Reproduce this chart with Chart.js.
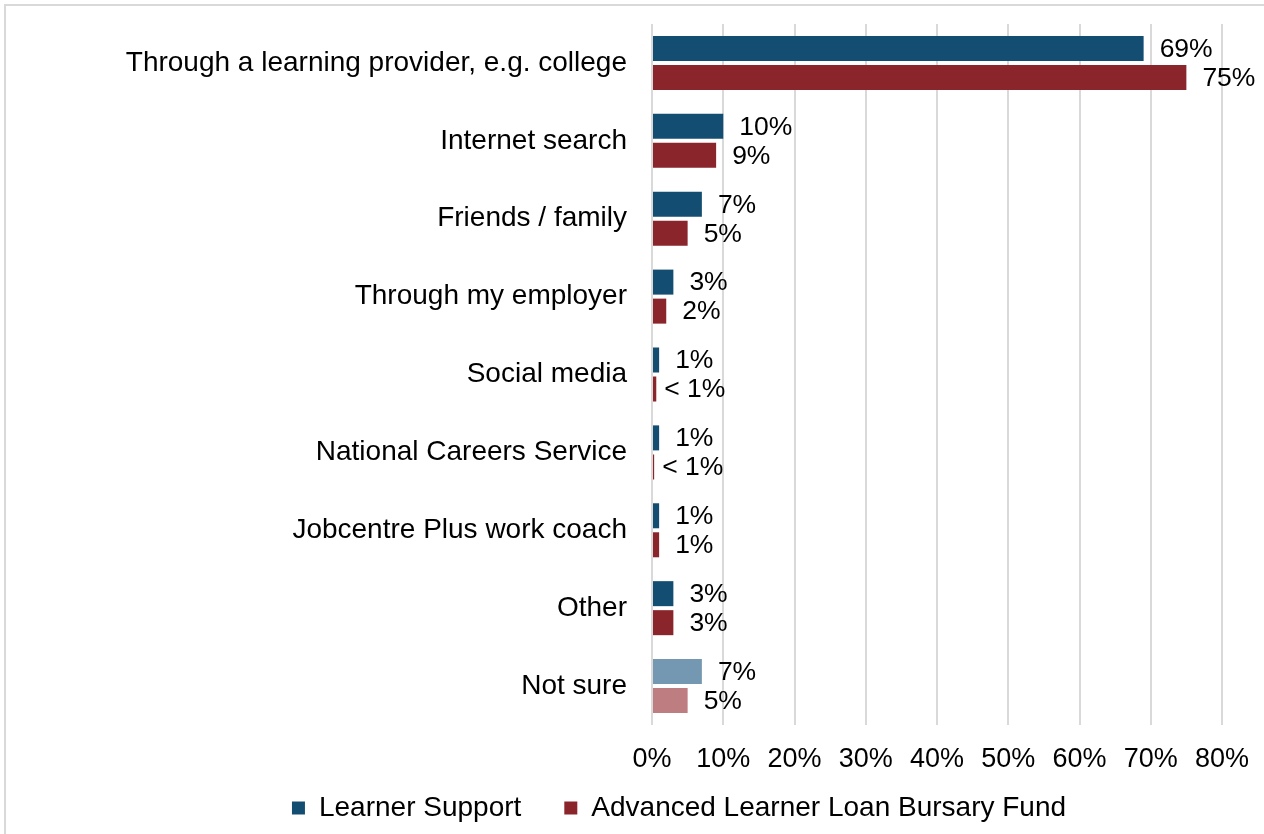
<!DOCTYPE html>
<html>
<head>
<meta charset="utf-8">
<script src="https://cdn.jsdelivr.net/npm/chart.js@4"></script>
<style>
  html, body { margin: 0; padding: 0; background: #fff; overflow: hidden; }
  #wrap { position: relative; width: 1264px; height: 834px; }
  #frame { position: absolute; left: 4px; top: 4px; width: 1400px; height: 1000px; border: 2px solid #d9d9d9; box-sizing: border-box; pointer-events: none; }
  canvas { position: absolute; left: 0; top: 0; }
</style>
</head>
<body>
<div id="wrap">
  <canvas id="myChart" width="1264" height="834"></canvas>
  <div id="frame"></div>
</div>
<script>
const categories = [
    'Through a learning provider, e.g. college',
    'Internet search',
    'Friends / family',
    'Through my employer',
    'Social media',
    'National Careers Service',
    'Jobcentre Plus work coach',
    'Other',
    'Not sure'
];
const learnerSupport = [69, 10, 7, 3, 1, 1, 1, 3, 7];
const bursaryFund = [75, 9, 5, 2, 0.6, 0.3, 1, 3, 5];
const learnerSupportLabels = ['69%', '10%', '7%', '3%', '1%', '1%', '1%', '3%', '7%'];
const bursaryFundLabels = ['75%', '9%', '5%', '2%', '< 1%', '< 1%', '1%', '3%', '5%'];
const xTicks = [0, 10, 20, 30, 40, 50, 60, 70, 80];

const blue = '#144d72';
const red = '#8a252c';
const blueLight = '#7498b1';
const redLight = '#bd7d81';

const fontFamily = '"Liberation Sans", Arial, sans-serif';

const valueLabels = {
    id: 'valueLabels',
    afterDatasetsDraw(chart) {
        const ctx = chart.ctx;
        ctx.save();
        ctx.font = `26.5px ${fontFamily}`;
        ctx.fillStyle = '#000';
        ctx.textAlign = 'left';
        ctx.textBaseline = 'middle';
        chart.data.datasets.forEach((ds, i) => {
            const meta = chart.getDatasetMeta(i);
            meta.data.forEach((bar, j) => {
                const text = ds.labels[j];
                const off = text.startsWith('<') ? 8 : 16;
                ctx.fillText(text, bar.x + off, bar.y + 1);
            });
        });
        ctx.restore();
    }
};

// legend: fixed height, wide item gap, placed where the original sits
const legendFix = {
    id: 'legendFix',
    beforeLayout(chart) {
        const lg = chart.legend;
        if (lg && !lg._patched) {
            const fit = lg.fit.bind(lg);
            lg.fit = function () { fit(); this.height = 49; };
            lg._patched = true;
        }
    },
    afterLayout(chart) {
        const lg = chart.legend;
        if (!lg) return;
        lg.left += 136;
        lg.top -= 34;
    }
};

const ctx = document.getElementById('myChart').getContext('2d');
new Chart(ctx, {
    type: 'bar',
    data: {
        labels: categories,
        datasets: [
            {
                label: 'Learner Support',
                data: learnerSupport,
                labels: learnerSupportLabels,
                backgroundColor: categories.map((c, i) => i === categories.length - 1 ? blueLight : blue),
                borderWidth: 0
            },
            {
                label: 'Advanced Learner Loan Bursary Fund',
                data: bursaryFund,
                labels: bursaryFundLabels,
                backgroundColor: categories.map((c, i) => i === categories.length - 1 ? redLight : red),
                borderWidth: 0
            }
        ]
    },
    options: {
        indexAxis: 'y',
        responsive: false,
        animation: false,
        categoryPercentage: 0.745,
        barPercentage: 0.862,
        layout: { padding: { top: 24, right: 42, left: 0, bottom: 0 } },
        plugins: {
            legend: {
                position: 'bottom',
                labels: {
                    color: '#000',
                    font: { size: 28, family: fontFamily },
                    boxWidth: 13,
                    boxHeight: 13,
                    padding: 43,
                    generateLabels: chart => chart.data.datasets.map((ds, i) => ({
                        text: ds.label,
                        fillStyle: i === 0 ? blue : red,
                        strokeStyle: i === 0 ? blue : red,
                        lineWidth: 0,
                        datasetIndex: i
                    }))
                }
            },
            tooltip: { enabled: false }
        },
        scales: {
            x: {
                min: 0,
                max: 80,
                afterBuildTicks: axis => { axis.ticks = xTicks.map(v => ({ value: v })); },
                afterFit: axis => { axis.height = 60; axis.paddingLeft = 0; axis.paddingRight = 0; },
                ticks: {
                    color: '#000',
                    font: { size: 27, family: fontFamily },
                    padding: 18,
                    callback: v => v + '%'
                },
                grid: { color: '#d9d9d9', lineWidth: 2, drawTicks: false },
                border: { display: false }
            },
            y: {
                afterFit: axis => { axis.width = 652; axis.paddingTop = 0; axis.paddingBottom = 0; },
                ticks: {
                    color: '#000',
                    font: { size: 28, family: fontFamily },
                    padding: 25
                },
                grid: { display: false, drawTicks: false },
                border: { display: false }
            }
        }
    },
    plugins: [valueLabels, legendFix]
});
</script>
</body>
</html>
